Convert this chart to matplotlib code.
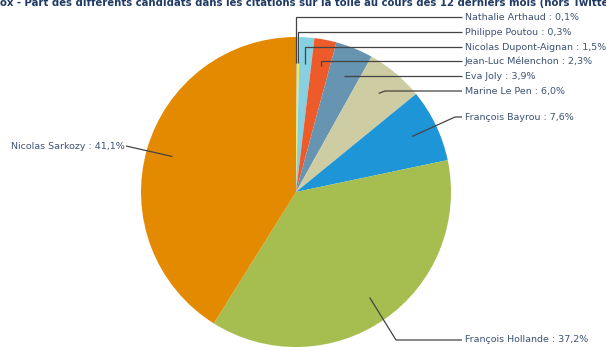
import numpy as np
import matplotlib
matplotlib.use("Agg")
import matplotlib.pyplot as plt

candidates = ["Nathalie Arthaud", "Philippe Poutou", "Nicolas Dupont-Aignan",
              "Jean-Luc Mélenchon", "Eva Joly", "Marine Le Pen", "François Bayrou",
              "François Hollande", "Nicolas Sarkozy"]
shares = [0.1, 0.3, 1.5, 2.3, 3.9, 6.0, 7.6, 37.2, 41.1]
colors = ["#9a9a9a", "#f3e84e", "#86d0e2", "#ee5b2b", "#6794b1", "#cdcca2",
          "#1e95d6", "#a6bd4f", "#e38a00"]
title = "ox - Part des différents candidats dans les citations sur la toile au cours des 12 derniers mois (hors Twitter)"

W, H = 606, 347
fig = plt.figure(figsize=(W / 100, H / 100), dpi=100)
ax = fig.add_axes([0, 0, 1, 1])

def Y(py):
    return H - py

cx, cy, R = 296, Y(192), 155
wedges, _ = ax.pie(shares, colors=colors, startangle=90, counterclock=False,
                   center=(cx, cy), radius=R, wedgeprops=dict(linewidth=0))
ax.set_xlim(0, W)
ax.set_ylim(0, H)
ax.set_aspect("equal")
ax.axis("off")

# label layout (pixel rows from top), elbow x positions
label_y = [17, 32, 47, 61, 76, 91, 117, 340, 146]
elbow_x = [None, None, None, None, "a", 385, 455, 396, None]
label_x = 465
line_end = 462
txt_color = "#3d5273"
line_color = "#444444"

for i, (w, name, v) in enumerate(zip(wedges, candidates, shares)):
    mid = np.deg2rad((w.theta1 + w.theta2) / 2)
    axp = cx + 0.83 * R * np.cos(mid)
    ayp = cy + 0.83 * R * np.sin(mid)
    lab = f"{name} : {v:.1f}".replace(".", ",") + "%"
    ly = Y(label_y[i])
    if name == "Nicolas Sarkozy":
        ax.plot([axp, 126], [ayp, ly], color=line_color, lw=0.9, solid_capstyle="butt")
        ax.text(125, ly, lab, ha="right", va="center", fontsize=6.8, color=txt_color)
        continue
    ex = elbow_x[i]
    if ex is None:
        xs = [axp, axp, line_end]
        ys = [ayp, ly, ly]
    elif ex == "a":
        xs = [axp, line_end]
        ys = [ly, ly]
    else:
        xs = [axp, ex, line_end]
        ys = [ayp, ly, ly]
    ax.plot(xs, ys, color=line_color, lw=0.9, solid_capstyle="butt")
    ax.text(label_x, ly, lab, ha="left", va="center", fontsize=6.8, color=txt_color)

ax.text(0, Y(6), title, ha="left", va="baseline", fontsize=7.25,
        fontweight="bold", color="#1f3a64")

fig.savefig("out.png", dpi=100)
